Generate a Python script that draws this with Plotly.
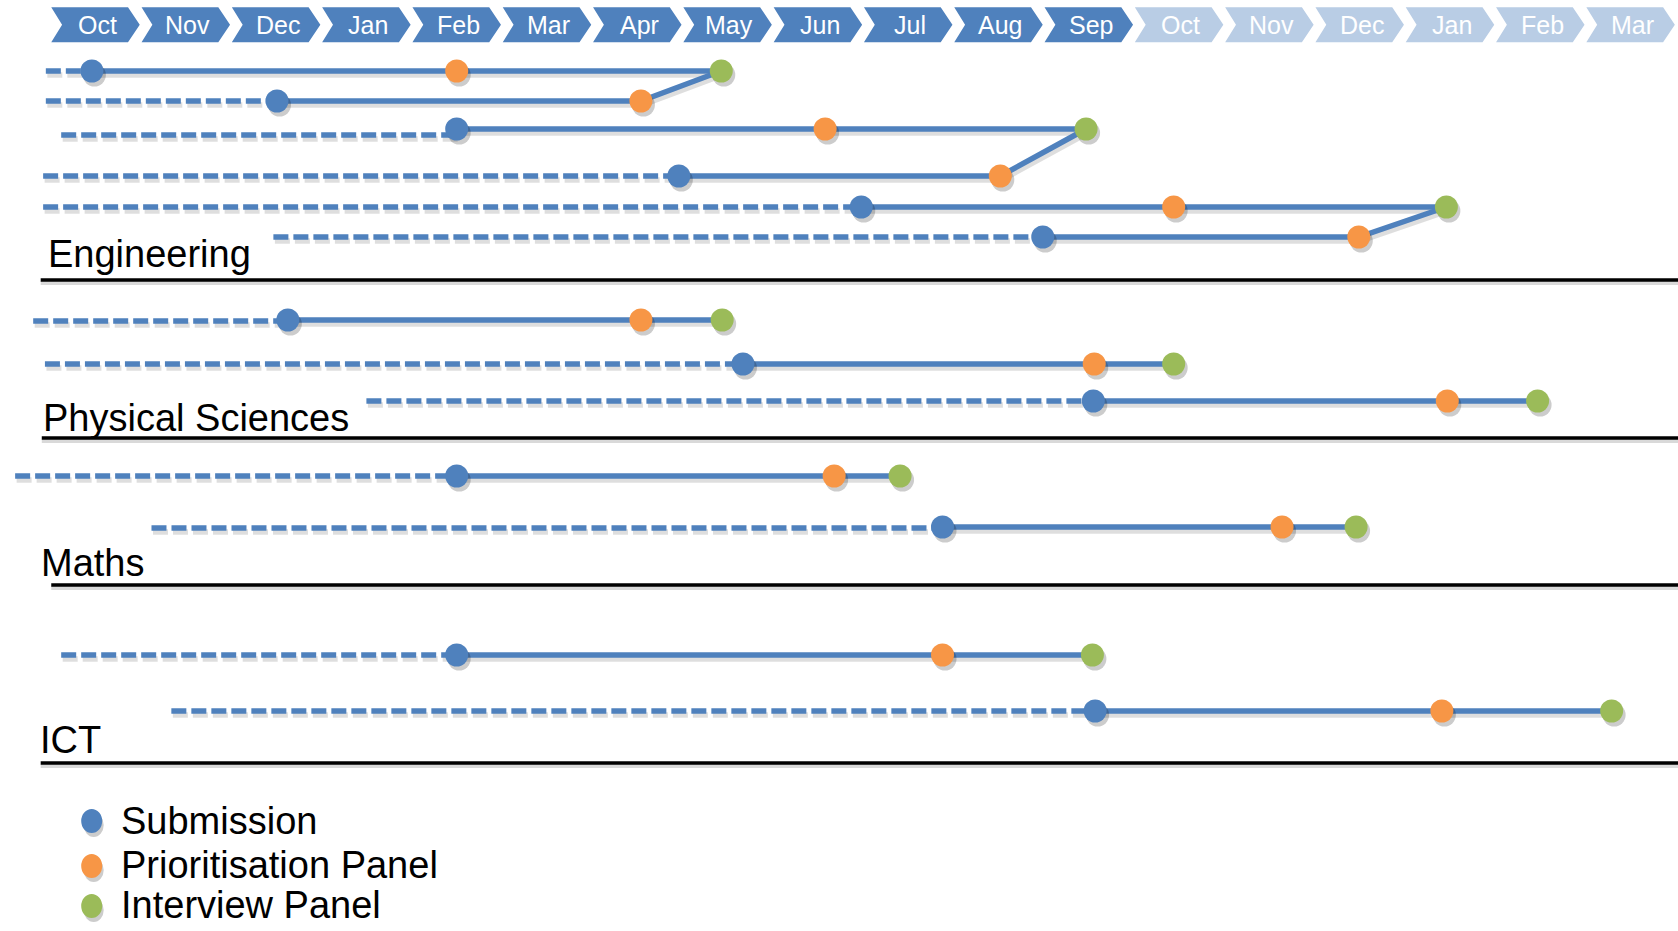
import plotly.graph_objects as go

# ---------------- DATA ----------------
MONTHS = ["Oct", "Nov", "Dec", "Jan", "Feb", "Mar", "Apr", "May", "Jun",
          "Jul", "Aug", "Sep", "Oct", "Nov", "Dec", "Jan", "Feb", "Mar"]
MONTH_ACTIVE = [True] * 12 + [False] * 6

GROUPS = ["Engineering", "Physical Sciences", "Maths", "ICT"]

# positions in months, 0 = first October
eng_start = [-0.55, -0.55, -0.38, -0.58, -0.58, 1.97]
eng_submission = [-0.04, 2.01, 4.0, 6.46, 8.48, 10.49]
eng_prioritisation = [4.0, 6.04, 8.08, 10.02, 11.94, 13.99]
eng_interview = [6.93, 6.93, 10.97, 10.97, 14.96, 14.96]
eng_shared = [False, True, False, True, False, True]  # interview shared with row above

phys_start = [-0.69, -0.56, 3.0]
phys_submission = [2.13, 7.17, 11.05]
phys_prioritisation = [6.04, 11.06, 14.97]
phys_interview = [6.94, 11.94, 15.97]
phys_shared = [False, False, False]

maths_start = [-0.89, 0.62]
maths_submission = [4.0, 9.38]
maths_prioritisation = [8.18, 13.14]
maths_interview = [8.91, 13.96]
maths_shared = [False, False]

ict_start = [-0.38, 0.84]
ict_submission = [4.0, 11.07]
ict_prioritisation = [9.38, 14.91]
ict_interview = [11.04, 16.79]
ict_shared = [False, False]

LEGEND_LABELS = ["Submission", "Prioritisation Panel", "Interview Panel"]

# ---------------- LAYOUT / STYLE ----------------
W, H = 1678, 931
PX0, PXM = 95.5, 90.3          # pixel of month 0 centre, pixels per month
X_RANGE = [-PX0 / PXM, (W - PX0) / PXM]

BLUE = "#4F81BD"
LIGHT = "#B9CDE5"
ORANGE = "#F79646"
GREEN = "#9BBB59"
FONT = "Liberation Sans, Arial, sans-serif"
DASH = "15px,5px"
LW = 5.5

LANES = {
    "Engineering": [71, 101, 129, 176, 207, 237],
    "Physical Sciences": [320, 364, 401],
    "Maths": [476, 527],
    "ICT": [655, 711],
}
DASH_DY = {
    "Engineering": [0, 0, 6, 0, 0, 0],
    "Physical Sciences": [1, 0, 0],
    "Maths": [0, 1],
    "ICT": [0, 0],
}
SEP_Y = [280, 438, 585, 763]
SEP_X0 = [-0.607, -0.595, -0.49, -0.607]
LABEL_POS = [(46, 254), (41, 418), (39, 563), (38, 740)]
LEGEND_Y = [821, 866, 906]
LEGEND_TEXT_Y = [821, 865, 905]
LEGEND_X = 91.7
LEGEND_TEXT_X = 119

DATA = {
    "Engineering": (eng_start, eng_submission, eng_prioritisation, eng_interview, eng_shared),
    "Physical Sciences": (phys_start, phys_submission, phys_prioritisation, phys_interview, phys_shared),
    "Maths": (maths_start, maths_submission, maths_prioritisation, maths_interview, maths_shared),
    "ICT": (ict_start, ict_submission, ict_prioritisation, ict_interview, ict_shared),
}

fig = go.Figure()
shapes = []
annotations = []

SH = "rgba(0,0,0,0.13)"
SHM = "rgba(0,0,0,0.20)"
SHX = 1.5 / PXM

# month chevrons
yt, yb = 7.3, 42.3
ym = (yt + yb) / 2
for i, (m, act) in enumerate(zip(MONTHS, MONTH_ACTIVE)):
    x0, notch, body, tip = i - 0.49, i - 0.37, i + 0.36, i + 0.49
    path = (f"M {x0},{yt} L {body},{yt} L {tip},{ym} L {body},{yb} "
            f"L {x0},{yb} L {notch},{ym} Z")
    shapes.append(dict(type="path", path=path, xref="x", yref="y",
                       fillcolor=BLUE if act else LIGHT, line=dict(width=0),
                       layer="below"))
    annotations.append(dict(x=i + 0.02, y=ym + 0.5, xref="x", yref="y", text=m,
                            showarrow=False, xanchor="center", yanchor="middle",
                            font=dict(family=FONT, size=25, color="white")))

# rows
line_traces = []
marker_sets = {"sub": ([], []), "prio": ([], []), "int": ([], [])}
for g in GROUPS:
    start, sub, prio, intv, shared = DATA[g]
    lanes = LANES[g]
    ddy = DASH_DY[g]
    for r in range(len(start)):
        y = lanes[r]
        yd = y + ddy[r]
        yi = lanes[r - 1] if shared[r] else y
        # shadows
        fig.add_trace(go.Scatter(x=[start[r] + SHX, sub[r] + SHX], y=[yd + 4, yd + 4],
                                 mode="lines", line=dict(color=SH, width=LW, dash=DASH),
                                 hoverinfo="skip", showlegend=False))
        fig.add_trace(go.Scatter(x=[sub[r] + SHX, prio[r] + SHX, intv[r] + SHX],
                                 y=[y + 4, y + 4, yi + 4], mode="lines",
                                 line=dict(color=SH, width=LW), hoverinfo="skip",
                                 showlegend=False))
        line_traces.append(go.Scatter(x=[start[r], sub[r]], y=[yd, yd], mode="lines",
                                      line=dict(color=BLUE, width=LW, dash=DASH),
                                      hoverinfo="skip", showlegend=False))
        line_traces.append(go.Scatter(x=[sub[r], prio[r], intv[r]], y=[y, y, yi],
                                      mode="lines", line=dict(color=BLUE, width=LW),
                                      hoverinfo="skip", showlegend=False))
        marker_sets["sub"][0].append(sub[r]); marker_sets["sub"][1].append(y)
        marker_sets["prio"][0].append(prio[r]); marker_sets["prio"][1].append(y)
        if not shared[r]:
            marker_sets["int"][0].append(intv[r]); marker_sets["int"][1].append(y)

for t in line_traces:
    fig.add_trace(t)

for key, col in [("sub", BLUE), ("prio", ORANGE), ("int", GREEN)]:
    xs, ys = marker_sets[key]
    fig.add_trace(go.Scatter(x=[v + 2.5 / PXM for v in xs], y=[v + 4 for v in ys],
                             mode="markers", marker=dict(size=23, color=SHM, line=dict(width=0)),
                             hoverinfo="skip", showlegend=False))
    fig.add_trace(go.Scatter(x=xs, y=ys, mode="markers",
                             marker=dict(size=23, color=col, line=dict(width=0)),
                             showlegend=False))

# separators and group labels
for g, sy, sx0, (lx, ly) in zip(GROUPS, SEP_Y, SEP_X0, LABEL_POS):
    shapes.append(dict(type="line", xref="x", yref="y", x0=sx0, x1=X_RANGE[1] + 1,
                       y0=sy + 3, y1=sy + 3, line=dict(color="rgba(0,0,0,0.15)", width=4)))
    shapes.append(dict(type="line", xref="x", yref="y", x0=sx0, x1=X_RANGE[1] + 1,
                       y0=sy, y1=sy, line=dict(color="black", width=3.5)))
    annotations.append(dict(x=lx / W, y=ly, xref="paper", yref="y", text=g,
                            showarrow=False, xanchor="left", yanchor="middle",
                            font=dict(family=FONT, size=38, color="black")))

# manual legend
for lab, col, cy, ty in zip(LEGEND_LABELS, [BLUE, ORANGE, GREEN], LEGEND_Y, LEGEND_TEXT_Y):
    shapes.append(dict(type="circle", xref="paper", yref="y",
                       x0=(LEGEND_X - 10 + 2) / W, x1=(LEGEND_X + 10 + 2) / W,
                       y0=cy - 12 + 4, y1=cy + 12 + 4,
                       fillcolor="rgba(0,0,0,0.2)", line=dict(width=0)))
    shapes.append(dict(type="circle", xref="paper", yref="y",
                       x0=(LEGEND_X - 10.5) / W, x1=(LEGEND_X + 10.5) / W,
                       y0=cy - 12, y1=cy + 12, fillcolor=col, line=dict(width=0)))
    annotations.append(dict(x=LEGEND_TEXT_X / W, y=ty, xref="paper", yref="y", text=lab,
                            showarrow=False, xanchor="left", yanchor="middle",
                            font=dict(family=FONT, size=38, color="black")))

fig.update_layout(
    width=W, height=H, autosize=False,
    margin=dict(l=0, r=0, t=0, b=0),
    paper_bgcolor="white", plot_bgcolor="white",
    xaxis=dict(range=X_RANGE, visible=False, fixedrange=True),
    yaxis=dict(range=[H, 0], visible=False, fixedrange=True),
    shapes=shapes, annotations=annotations, showlegend=False,
)

fig.write_html("out.html", config={"displayModeBar": False})
